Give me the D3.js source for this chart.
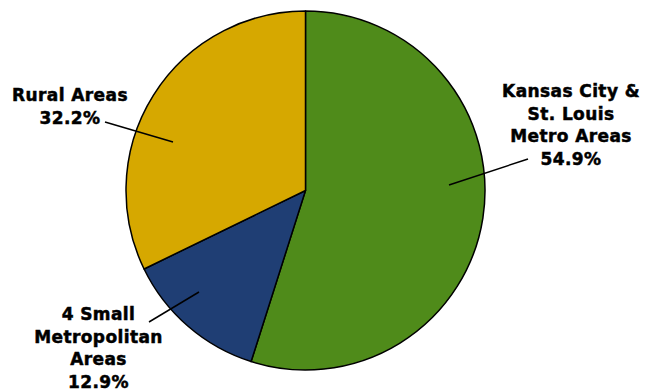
<!DOCTYPE html>
<html>
<head>
<meta charset="utf-8">
<script src="https://cdn.jsdelivr.net/npm/d3@7"></script>
<style>
  html, body { margin: 0; padding: 0; background: #ffffff; }
  svg { display: block; }
  .lbl { font-family: "DejaVu Sans", sans-serif; font-weight: bold; font-size: 17px; fill: #000; stroke: #000; stroke-width: 0.5px; }
</style>
</head>
<body>
<svg id="chart" width="653" height="391"></svg>
<script>
// Share of population by area type
const regions = ["Kansas City & St. Louis Metro Areas", "4 Small Metropolitan Areas", "Rural Areas"];
const shares = [54.9, 12.9, 32.2];
const colors = ["#4f8b1a", "#1f3e74", "#d6a800"];

// Label text broken into lines
const labelLines = [
  ["Kansas City &", "St. Louis", "Metro Areas", "54.9%"],
  ["4 Small", "Metropolitan", "Areas", "12.9%"],
  ["Rural Areas", "32.2%"]
];

// Label placement: text anchor, first baseline, and leader line (from text to slice)
const labelLayout = [
  { x: 571, y: 97, line: [528, 159, 449, 185] },
  { x: 98.5, y: 320, line: [149, 322, 199, 292] },
  { x: 70, y: 101, line: [105, 122, 173, 142] }
];
const lineHeight = 22.5;

const svg = d3.select("#chart");
const cx = 305.5, cy = 190.5, radius = 179.5;

const pie = d3.pie().sort(null).value(d => d);
const arc = d3.arc().innerRadius(0).outerRadius(radius);

const g = svg.append("g").attr("transform", `translate(${cx},${cy})`);

g.selectAll("path")
  .data(pie(shares))
  .join("path")
  .attr("d", arc)
  .attr("fill", (d, i) => colors[i])
  .attr("stroke", "#000")
  .attr("stroke-width", 1.5)
  .attr("stroke-linejoin", "round");

// Leader lines
svg.selectAll("line.leader")
  .data(labelLayout)
  .join("line")
  .attr("class", "leader")
  .attr("x1", d => d.line[0]).attr("y1", d => d.line[1])
  .attr("x2", d => d.line[2]).attr("y2", d => d.line[3])
  .attr("stroke", "#000")
  .attr("stroke-width", 1.5);

// Labels
labelLines.forEach((lines, i) => {
  const L = labelLayout[i];
  const t = svg.append("text")
    .attr("class", "lbl")
    .attr("text-anchor", "middle")
    .attr("letter-spacing", "0.4px");
  lines.forEach((s, k) => {
    t.append("tspan")
      .attr("x", L.x)
      .attr("y", L.y + k * lineHeight)
      .text(s);
  });
});
</script>
</body>
</html>
